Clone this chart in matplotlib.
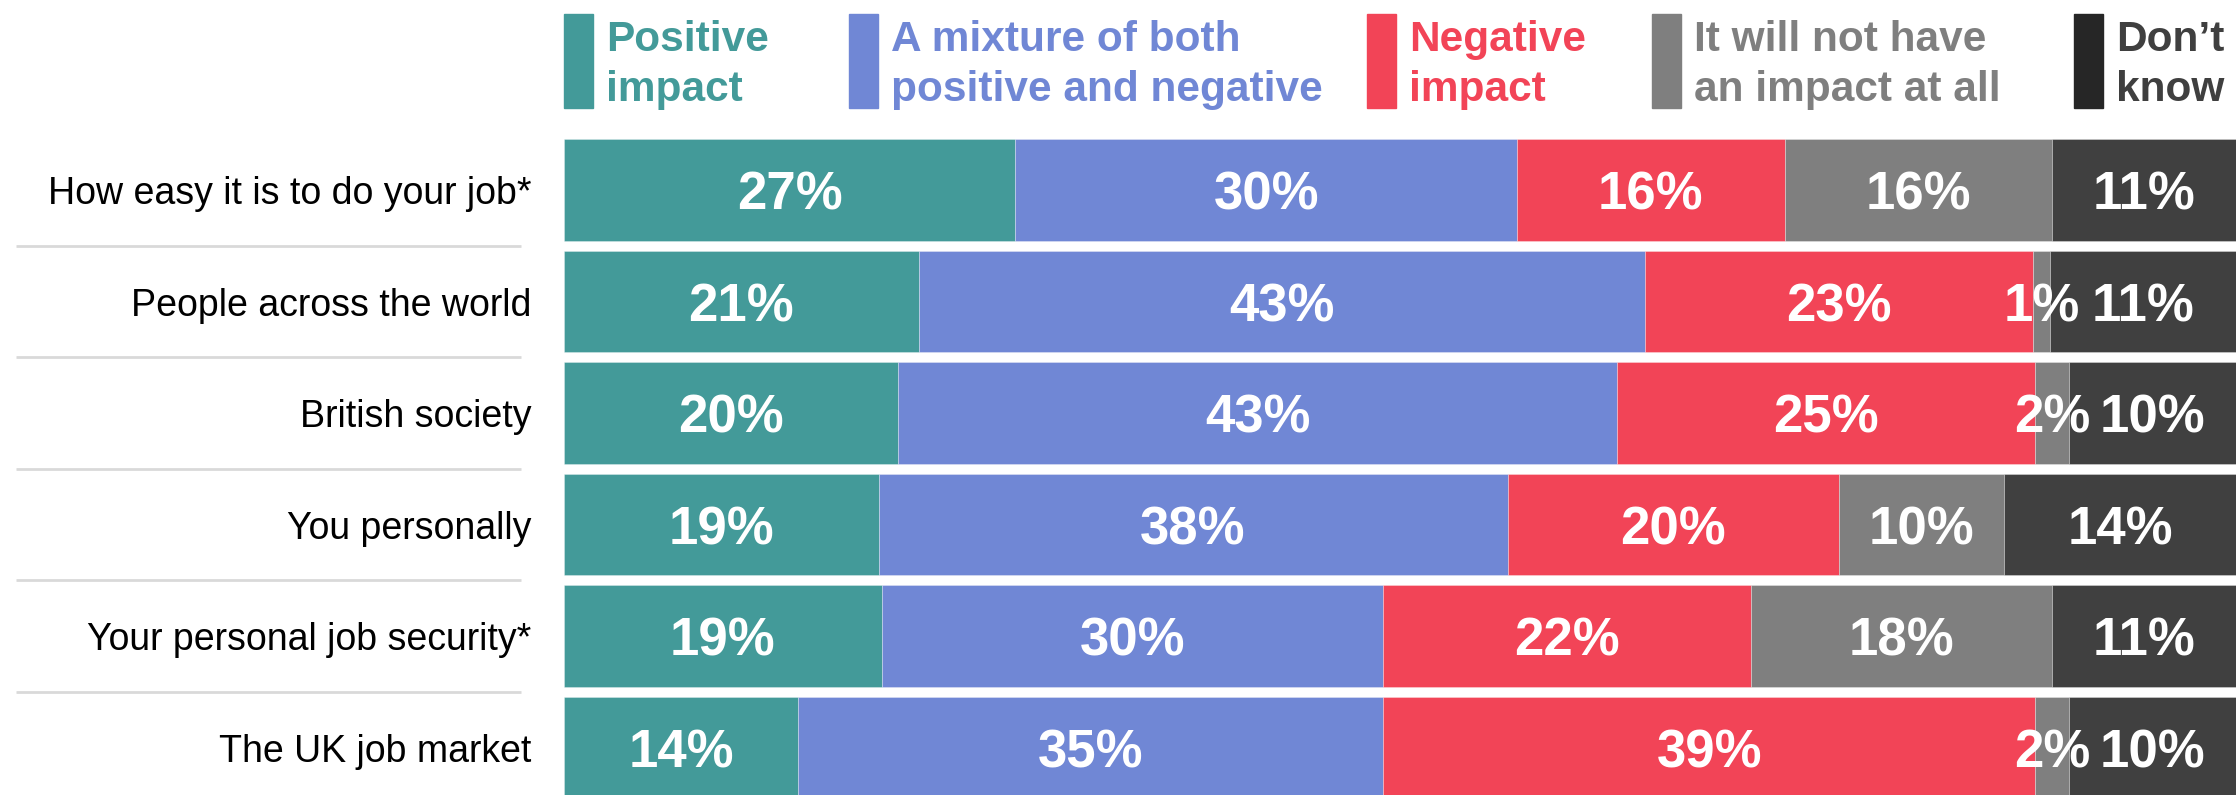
import numpy as np
import matplotlib
matplotlib.use("Agg")
import matplotlib.pyplot as plt
from matplotlib.patches import Rectangle
from matplotlib.transforms import blended_transform_factory

plt.rcParams['font.family'] = ['Liberation Sans', 'DejaVu Sans']

# Data (% of respondents)
rows = ["How easy it is to do your job*", "People across the world", "British society",
        "You personally", "Your personal job security*", "The UK job market"]
positive = [27, 21, 20, 19, 19, 14]
mixed = [30, 43, 43, 38, 30, 35]
negative = [16, 23, 25, 20, 22, 39]
no_impact = [16, 1, 2, 10, 18, 2]
dont_know = [11, 11, 10, 14, 11, 10]

series_names = ["Positive\nimpact", "A mixture of both\npositive and negative",
                "Negative\nimpact", "It will not have\nan impact at all", "Don\u2019t\nknow"]
bar_colors = ['#439a99', '#7087d5', '#f24457', '#7f7f7f', '#404040']
legend_patch_colors = ['#439a99', '#7087d5', '#f24457', '#7f7f7f', '#262626']
legend_text_colors = ['#439a99', '#7087d5', '#f24457', '#7f7f7f', '#3f3f3f']

W, H = 2236, 795
fig = plt.figure(figsize=(W / 100, H / 100), dpi=100)
ax = fig.add_axes([564 / W, -0.01038, 1 - 564 / W, 0.8415])

data = np.array([positive, mixed, negative, no_impact, dont_know], dtype=float)
shares = data / data.sum(axis=0) * 100  # each bar fills the full width
y = np.arange(len(rows))
left = np.zeros(len(rows))

for i in range(len(series_names)):
    ax.barh(y, shares[i], left=left, height=0.91, color=bar_colors[i],
            edgecolor=(1, 1, 1, 0.35), linewidth=0.6)
    for j in range(len(rows)):
        ax.text(left[j] + shares[i][j] / 2, y[j], f"{int(data[i][j])}%",
                ha='center', va='center_baseline', color='white',
                fontsize=38, fontweight='bold')
    left += shares[i]

ax.set_xlim(0, 100)
ax.set_ylim(len(rows) - 0.5, -0.5)
ax.axis('off')

# row labels and separators on the left
lab_tr = blended_transform_factory(fig.transFigure, ax.transData)
for j, name in enumerate(rows):
    ax.text(531 / W, y[j], name, transform=lab_tr, ha='right', va='center_baseline',
            fontsize=27, color='black', clip_on=False)
for j in range(len(rows) - 1):
    ax.plot([16 / W, 521 / W], [j + 0.5, j + 0.5], transform=lab_tr,
            color='#d9d9d9', linewidth=2, clip_on=False, solid_capstyle='butt')

# legend along the top
legend_x = [564, 849, 1367, 1652, 2074]
for i, name in enumerate(series_names):
    fig.patches.append(Rectangle((legend_x[i] / W, 1 - 108 / H), 29 / W, 94 / H,
                                 transform=fig.transFigure, color=legend_patch_colors[i]))
    fig.text((legend_x[i] + 42) / W, 1 - 20 / H, name, ha='left', va='top',
             fontsize=30.5, fontweight='bold', color=legend_text_colors[i],
             linespacing=1.32)

fig.savefig("out.png", dpi=100)
